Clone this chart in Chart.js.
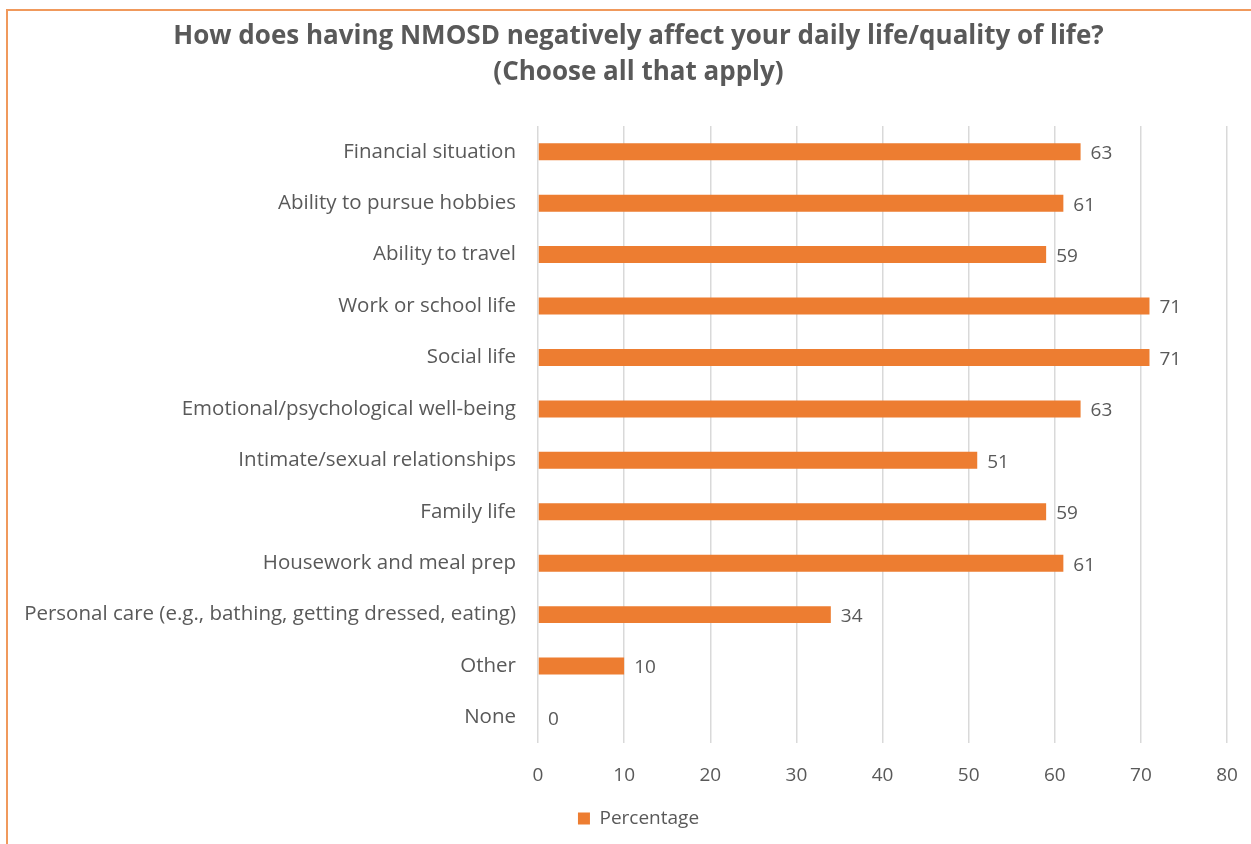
<!DOCTYPE html>
<html>
<head>
<meta charset="utf-8">
<title>NMOSD quality of life</title>
<script src="https://cdn.jsdelivr.net/npm/chart.js@4/dist/chart.umd.min.js"></script>
<style>
  html, body { margin:0; padding:0; background:#fff; }
  #wrap { position:relative; width:1251px; height:844px; overflow:hidden; }
  #frame { position:absolute; left:6px; top:9px; width:1400px; height:1000px;
           border-left:2px solid #f0995c; border-top:2px solid #f0995c; pointer-events:none; }
  canvas { position:absolute; left:0; top:0; }
</style>
</head>
<body>
<div id="wrap">
  <canvas id="qolChart" width="1251" height="844"></canvas>
  <div id="frame"></div>
</div>
<script>
// survey answers, top to bottom
const categories = [
  'Financial situation',
  'Ability to pursue hobbies',
  'Ability to travel',
  'Work or school life',
  'Social life',
  'Emotional/psychological well-being',
  'Intimate/sexual relationships',
  'Family life',
  'Housework and meal prep',
  'Personal care (e.g., bathing, getting dressed, eating)',
  'Other',
  'None'
];
const percentages = [63, 61, 59, 71, 71, 63, 51, 59, 61, 34, 10, 0];
const titleLines = [
  'How does having NMOSD negatively affect your daily life/quality of life?',
  '(Choose all that apply)'
];

const GREY = '#595959';
const ORANGE = '#ED7D31';
const FONT = "'Open Sans', 'DejaVu Sans', sans-serif";

// value labels just past the end of each bar
const barValues = {
  id: 'barValues',
  afterDatasetsDraw(chart) {
    const ctx = chart.ctx;
    const meta = chart.getDatasetMeta(0);
    ctx.save();
    ctx.font = '19px ' + FONT;
    ctx.fillStyle = GREY;
    ctx.textAlign = 'left';
    ctx.textBaseline = 'middle';
    meta.data.forEach((bar, i) => {
      ctx.fillText(String(percentages[i]), bar.x + 10, bar.y + 2);
    });
    ctx.restore();
  }
};

new Chart(document.getElementById('qolChart'), {
  type: 'bar',
  data: {
    labels: categories,
    datasets: [{
      label: 'Percentage',
      data: percentages,
      backgroundColor: ORANGE,
      borderWidth: 0,
      barPercentage: 0.66,
      categoryPercentage: 0.5
    }]
  },
  options: {
    indexAxis: 'y',
    responsive: false,
    animation: false,
    layout: { padding: { left: 50, right: 24, top: 0, bottom: 6 } },
    scales: {
      x: {
        min: 0, max: 80,
        ticks: { stepSize: 10, color: GREY, font: { family: FONT, size: 19 }, padding: 21 },
        grid: { color: '#d9d9d9', lineWidth: 1.5, drawTicks: false },
        border: { display: false },
        afterFit(scale) {
          scale.height -= 9;
          // the "80" label fits inside the right padding
          scale.paddingRight = 0;
        }
      },
      y: {
        ticks: { color: GREY, font: { family: FONT, size: 20.5 }, padding: 22 },
        grid: { display: false, drawTicks: false },
        border: { display: false },
        afterFit(scale) {
          scale.width = 488;
          // long category names run past the left padding, so don't clip them
          scale._computeLabelArea = () => undefined;
        }
      }
    },
    plugins: {
      title: {
        display: true,
        text: titleLines,
        color: GREY,
        font: { family: FONT, size: 26, weight: 'bold', lineHeight: 1.385 },
        padding: { top: 19, bottom: 35 }
      },
      legend: {
        position: 'bottom',
        labels: {
          color: GREY,
          font: { family: FONT, size: 19 },
          boxWidth: 12, boxHeight: 12,
          padding: 10
        }
      },
      tooltip: { enabled: false }
    }
  },
  plugins: [barValues]
});
</script>
</body>
</html>
